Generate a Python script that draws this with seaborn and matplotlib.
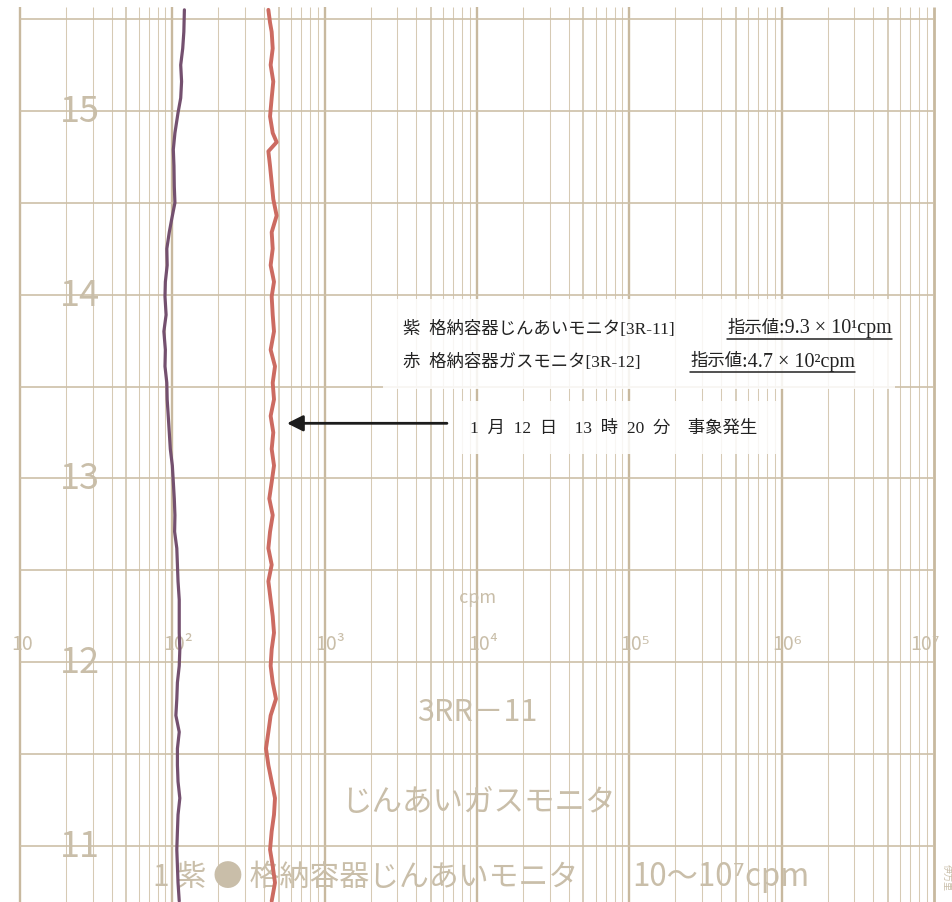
import numpy as np
import pandas as pd
import matplotlib.pyplot as plt
import matplotlib.transforms as mtransforms
from matplotlib.patches import Rectangle
import seaborn as sns

# chart recorder trace (time in hours, value in cpm)
# purple: 格納容器じんあいモニタ [3R-11]
purple_time = [15.55, 15.43, 15.34, 15.25, 15.16, 15.07, 14.99, 14.88, 14.79, 14.70,
               14.59, 14.50, 14.41, 14.34, 14.25, 14.16, 14.07, 13.99, 13.89, 13.80,
               13.70, 13.61, 13.52, 13.43, 13.34, 13.25, 13.16, 13.07, 12.98, 12.89,
               12.80, 12.71, 12.62, 12.53, 12.44, 12.34, 12.25, 12.16, 12.07, 11.98,
               11.89, 11.80, 11.71, 11.62, 11.53, 11.44, 11.35, 11.26, 11.17, 11.08,
               10.98, 10.89, 10.80, 10.70]
purple_cpm = [120, 119, 117, 113.5, 115, 113.5, 109, 104, 101.5, 102.5,
              103, 104, 99, 95.5, 92, 92.5, 90, 89.5, 91, 88,
              90, 89.5, 92, 92.5, 94, 95.5, 97, 100, 101.5, 103,
              104, 103.5, 107, 108, 109, 111, 111, 111, 112, 111,
              108, 107, 105.5, 111, 108, 108, 109, 112, 109, 108,
              107, 108, 109, 111]

# red: 格納容器ガスモニタ [3R-12]
red_time = [15.55, 15.48, 15.43, 15.34, 15.25, 15.16, 15.07, 14.97, 14.88, 14.83,
            14.78, 14.70, 14.61, 14.52, 14.43, 14.34, 14.25, 14.16, 14.07, 13.99,
            13.89, 13.80, 13.70, 13.61, 13.52, 13.43, 13.34, 13.25, 13.16, 13.07,
            12.98, 12.89, 12.80, 12.71, 12.62, 12.53, 12.44, 12.34, 12.25, 12.16,
            12.07, 11.98, 11.89, 11.80, 11.71, 11.62, 11.53, 11.44, 11.35, 11.26,
            11.17, 11.08, 10.98, 10.89, 10.80, 10.70]
red_cpm = [427, 438, 449, 456, 442, 460, 449, 438, 456, 484,
           427, 438, 449, 460, 484, 449, 456, 442, 465, 449,
           456, 465, 442, 472, 456, 465, 442, 460, 449, 465,
           449, 433, 456, 438, 427, 449, 427, 442, 456, 465,
           449, 442, 456, 479, 442, 427, 412, 427, 449, 472,
           465, 449, 438, 456, 472, 449]

hour_ticks = [11, 12, 13, 14, 15]
half_hours = [11.0, 11.5, 12.0, 12.5, 13.0, 13.5, 14.0, 14.5, 15.0, 15.5]
decades = [1, 2, 3, 4, 5, 6, 7]
decade_labels = ['10', '10²', '10³', '10⁴', '10⁵', '10⁶', '10⁷']

event_time = 13.30          # 13時20分 arrow
arrow_tip, arrow_tail = 566, 6350

sns.set_style('white')
plt.rcParams['font.family'] = ['Noto Sans CJK JP', 'DejaVu Sans']

W, H = 953, 903
paper_txt = '#c9bea9'

fig = plt.figure(figsize=(W / 100, H / 100), dpi=100)
ax = fig.add_axes([0, 0, 1, 1])
ax.set_xscale('log')
ax.set_xlim(10 ** 0.8687, 10 ** 7.1249)
ax.set_ylim(10.695, 15.609)
ax.axis('off')

# chart paper grid
y_lo, y_hi = 10.695, 15.565
for d in decades[:-1]:
    for k in range(1, 10):
        v = k * 10 ** d
        if k == 1:
            lw, c = 1.7, '#c8b99f'
        elif k == 5:
            lw, c = 1.1, '#cdc0a8'
        else:
            lw, c = 0.75, '#d6cab4'
        ax.vlines(v, y_lo, y_hi, colors=c, lw=lw, zorder=1)
ax.vlines(1e7, y_lo, y_hi, colors='#c8b99f', lw=2.0, zorder=1)
ax.hlines(half_hours, 10, 1e7, colors='#cdc0a8', lw=1.2, zorder=1)

def fig_xy(px, py):
    return px / W, 1 - py / H

# printed paper labels
for h in hour_ticks:
    ax.text(24.8, h, str(h), ha='center', va='center', fontsize=26,
            color=paper_txt, zorder=2)

for d, lab in zip(decades, decade_labels):
    if d == 1:
        tr = mtransforms.offset_copy(ax.transData, fig=fig, x=2, y=0, units='dots')
        ha = 'center'
    elif d == 7:
        tr = mtransforms.offset_copy(ax.transData, fig=fig, x=6, y=0, units='dots')
        ha = 'right'
    else:
        tr = mtransforms.offset_copy(ax.transData, fig=fig, x=-9, y=0, units='dots')
        ha = 'left'
    ax.text(10 ** d, 12.10, lab, ha=ha, va='center', fontsize=14, color=paper_txt,
            transform=tr, zorder=2)

ax.text(*fig_xy(478, 598), 'cpm', transform=fig.transFigure, ha='center', va='center',
        fontsize=13, color=paper_txt, zorder=2)
ax.text(*fig_xy(477, 713), '3RR－11', transform=fig.transFigure, ha='center', va='center',
        fontsize=22, color=paper_txt, zorder=2)
ax.text(*fig_xy(478, 803), 'じんあいガスモニタ', transform=fig.transFigure, ha='center',
        va='center', fontsize=22, color=paper_txt, zorder=2)
ax.text(*fig_xy(153, 877), '1 紫 ● 格納容器じんあいモニタ', transform=fig.transFigure,
        ha='left', va='center', fontsize=21.5, color=paper_txt, zorder=2)
ax.text(*fig_xy(632, 877), '10～10⁷cpm', transform=fig.transFigure, ha='left',
        va='center', fontsize=22.5, color=paper_txt, zorder=2)
ax.text(*fig_xy(946, 878), '伊万里', transform=fig.transFigure, ha='center', va='center',
        fontsize=6.5, rotation=-90, color=paper_txt, zorder=2)

# recorder traces
purple = pd.DataFrame({'time': purple_time, 'cpm': purple_cpm})
red = pd.DataFrame({'time': red_time, 'cpm': red_cpm})
sns.lineplot(data=purple, x='cpm', y='time', sort=False, estimator=None,
             color='#74506f', lw=2.3, ax=ax, zorder=4)
sns.lineplot(data=red, x='cpm', y='time', sort=False, estimator=None,
             color='#cc6b61', lw=2.8, ax=ax, zorder=5)

# annotation boxes
ax.add_patch(Rectangle(fig_xy(383, 390), 512 / W, 90 / H, transform=fig.transFigure,
                       facecolor='white', edgecolor='none', alpha=0.85, zorder=6))
ax.add_patch(Rectangle(fig_xy(455, 455), 325 / W, 53 / H, transform=fig.transFigure,
                       facecolor='white', edgecolor='none', alpha=0.85, zorder=6))

note_font = ['Liberation Serif', 'Noto Sans CJK JP']
ink = '#222222'
fs = 12.5

def note(px, py, s, size=fs):
    return ax.text(*fig_xy(px, py), s, transform=fig.transFigure, ha='left', va='center',
                   fontsize=size, color=ink, family=note_font, zorder=7)

note(403, 329, '紫  格納容器じんあいモニタ[3R-11]')
note(403, 362, '赤  格納容器ガスモニタ[3R-12]')
underlined = [(note(727, 329, '指示値'), note(779, 329, ':9.3 × 10¹cpm', 14.5)),
              (note(690, 362, '指示値'), note(742, 362, ':4.7 × 10²cpm', 14.5))]
note(470, 429, '1  月  12  日　13  時  20  分　事象発生')

ax.annotate('', xy=(arrow_tip, event_time), xytext=(arrow_tail, event_time),
            arrowprops=dict(arrowstyle='-|>', color='#1c1c1c', lw=2.0,
                            mutation_scale=24, shrinkA=0, shrinkB=0), zorder=7)

# underline the readings
fig.canvas.draw()
rend = fig.canvas.get_renderer()
for a, b in underlined:
    ba, bb = a.get_window_extent(rend), b.get_window_extent(rend)
    y0 = min(ba.y0, bb.y0) - 1
    fig.add_artist(plt.Line2D([ba.x0 / W, bb.x1 / W], [y0 / H] * 2,
                              color=ink, lw=1.1, zorder=8))

fig.savefig('out.png', dpi=100, facecolor='white')
